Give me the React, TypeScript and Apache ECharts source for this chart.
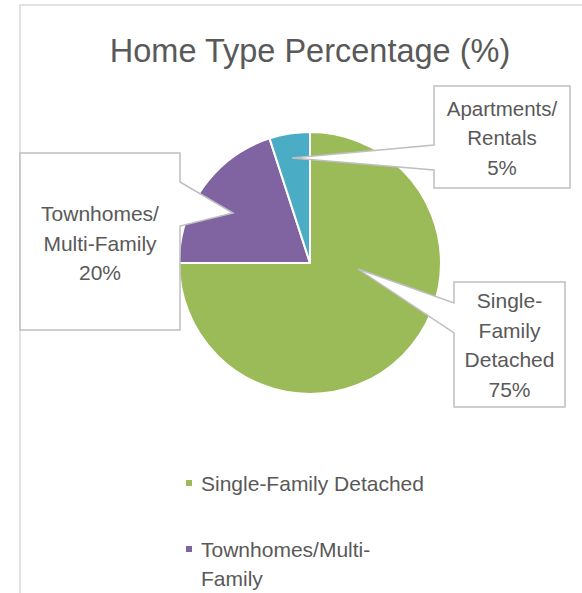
import React, { useEffect, useRef } from 'react';
import * as echarts from 'echarts';

const titleText = 'Home Type Percentage (%)';
const categories = ['Single-Family Detached', 'Townhomes/Multi-Family', 'Apartments/Rentals'];
const values = [75, 20, 5];
const colors = ['#9BBB59', '#8064A2', '#4BACC6'];
const calloutNames = ['Single-\nFamily\nDetached', 'Townhomes/\nMulti-Family', 'Apartments/\nRentals'];
const legendNames = ['Single-Family Detached', 'Townhomes/Multi-Family'];
const legendWrapped: Record<string, string> = {
  'Single-Family Detached': 'Single-Family Detached',
  'Townhomes/Multi-Family': ' \nTownhomes/Multi-\nFamily',
};

const FONT = '"Liberation Sans", Arial, sans-serif';
const TEXT = '#595959';

// callout box layout: box [x0, y0, x1, y1], side where the pointer leaves, pointer base, tip, text centre
const callouts = [
  { box: [454, 282, 565, 407], side: 'left', base: [303, 333], tip: [358, 269], text: [509.5, 345], size: 21 },
  { box: [20, 153, 180, 330], side: 'right', base: [182, 226], tip: [233, 213], text: [100, 243], size: 21 },
  { box: [434, 86, 570, 188], side: 'left', base: [145, 170], tip: [292, 158], text: [502, 137.5], size: 20.5 },
];

function calloutPoints(c: any): number[][] {
  const [x0, y0, x1, y1] = c.box;
  const [b1, b2] = c.base;
  if (c.side === 'left') {
    return [[x0, y0], [x1, y0], [x1, y1], [x0, y1], [x0, b2], c.tip, [x0, b1]];
  }
  return [[x0, y0], [x1, y0], [x1, b1], c.tip, [x1, b2], [x1, y1], [x0, y1]];
}

export default function App() {
  const ref = useRef<HTMLDivElement>(null);
  useEffect(() => {
    if (!ref.current) return;
    const chart = echarts.init(ref.current, undefined, { renderer: 'svg' });
    const graphics: any[] = [
      {
        type: 'rect',
        shape: { x: 20, y: 5, width: 800, height: 800 },
        style: { fill: 'none', stroke: '#D9D9D9', lineWidth: 1.5 },
        z: 0,
        silent: true,
      },
    ];
    callouts.forEach((c, i) => {
      graphics.push({
        type: 'polygon',
        shape: { points: calloutPoints(c) },
        style: { fill: '#ffffff', stroke: '#BFBFBF', lineWidth: 1.5 },
        z: 10,
        silent: true,
      });
      graphics.push({
        type: 'text',
        x: c.text[0],
        y: c.text[1],
        style: {
          text: `${calloutNames[i]}\n${values[i]}%`,
          fontFamily: FONT,
          fontSize: c.size,
          lineHeight: 29.5,
          fill: TEXT,
          align: 'center',
          verticalAlign: 'middle',
        },
        z: 11,
        silent: true,
      });
    });

    const legendBase = {
      orient: 'vertical',
      left: 184,
      padding: 0,
      itemWidth: 8,
      itemHeight: 8,
      icon: 'rect',
      selectedMode: false,
      formatter: (name: string) => legendWrapped[name] ?? name,
      textStyle: { fontFamily: FONT, fontSize: 21, color: TEXT, lineHeight: 29, padding: [0, 0, 0, 3] },
    };

    chart.setOption({
      animation: false,
      backgroundColor: '#ffffff',
      title: {
        text: titleText,
        left: 'center',
        top: 34,
        padding: 0,
        textStyle: { fontFamily: FONT, fontSize: 32.5, fontWeight: 'normal', color: TEXT },
      },
      legend: [
        { ...legendBase, top: 468.5, data: [legendNames[0]] },
        { ...legendBase, top: 505.5, data: [legendNames[1]] },
      ],
      graphic: graphics,
      series: [
        {
          type: 'pie',
          center: [310, 263],
          radius: 131,
          startAngle: 90,
          clockwise: true,
          label: { show: false },
          labelLine: { show: false },
          emphasis: { disabled: true },
          itemStyle: { borderColor: '#ffffff', borderWidth: 2 },
          data: categories.map((name, i) => ({ name, value: values[i], itemStyle: { color: colors[i] } })),
        },
      ],
    });
    return () => chart.dispose();
  }, []);

  return (
    <div style={{ position: 'fixed', left: 0, top: 0, width: 582, height: 593, overflow: 'hidden', background: '#fff' }}>
      <div ref={ref} style={{ width: 620, height: 660 }} />
    </div>
  );
}
